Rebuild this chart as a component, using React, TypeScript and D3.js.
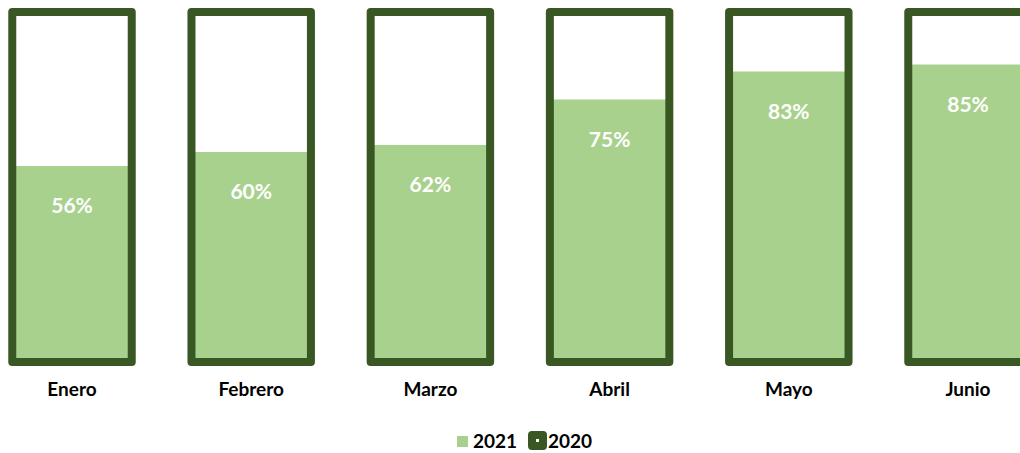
import React from "react";
import * as d3 from "d3";

const months = ["Enero", "Febrero", "Marzo", "Abril", "Mayo", "Junio"];
const values2021 = [0.56, 0.6, 0.62, 0.75, 0.83, 0.85];
const values2020 = [1, 1, 1, 1, 1, 1];
const seriesNames = ["2021", "2020"];

const W = 1020;
const H = 453;
const LIGHT = "#A9D18E";
const DARK = "#385723";
const FONT = "Lato, 'Open Sans', sans-serif";

export default function App() {
  const x = d3
    .scaleBand<string>()
    .domain(months)
    .range([-17.6, 1057.6])
    .paddingInner(1 / 3)
    .paddingOuter(1 / 6);
  const y = d3.scaleLinear().domain([0, 1]).range([362, 12]);
  const bw = x.bandwidth();
  const fmt = d3.format(".0%");

  return (
    <svg
      width={W}
      height={H}
      style={{ position: "absolute", left: 0, top: 0, background: "#fff" }}
      fontFamily={FONT}
    >
      {months.map((m, i) => {
        const x0 = x(m)!;
        return (
          <g key={m}>
            <rect
              x={x0}
              y={y(values2021[i])}
              width={bw}
              height={y(0) - y(values2021[i])}
              fill={LIGHT}
            />
            <rect
              x={x0}
              y={y(values2020[i])}
              width={bw}
              height={y(0) - y(values2020[i])}
              fill="none"
              stroke={DARK}
              strokeWidth={8}
              strokeLinejoin="round"
            />
            <text
              x={x0 + bw / 2}
              y={y(values2021[i]) + 47}
              textAnchor="middle"
              fill="#fff"
              fontWeight="bold"
              fontSize={21}
            >
              {fmt(values2021[i])}
            </text>
            <text
              x={x0 + bw / 2}
              y={396}
              textAnchor="middle"
              fill="#000"
              fontWeight="bold"
              fontSize={19}
            >
              {m}
            </text>
          </g>
        );
      })}
      <g>
        <rect x={457} y={436} width={11} height={11} fill={LIGHT} />
        <text x={473} y={448} fontWeight="bold" fontSize={19} fill="#000">
          {seriesNames[0]}
        </text>
        <rect
          x={532}
          y={435}
          width={11}
          height={11}
          fill="#fff"
          stroke={DARK}
          strokeWidth={8}
          strokeLinejoin="round"
        />
        <text x={548} y={448} fontWeight="bold" fontSize={19} fill="#000">
          {seriesNames[1]}
        </text>
      </g>
    </svg>
  );
}
